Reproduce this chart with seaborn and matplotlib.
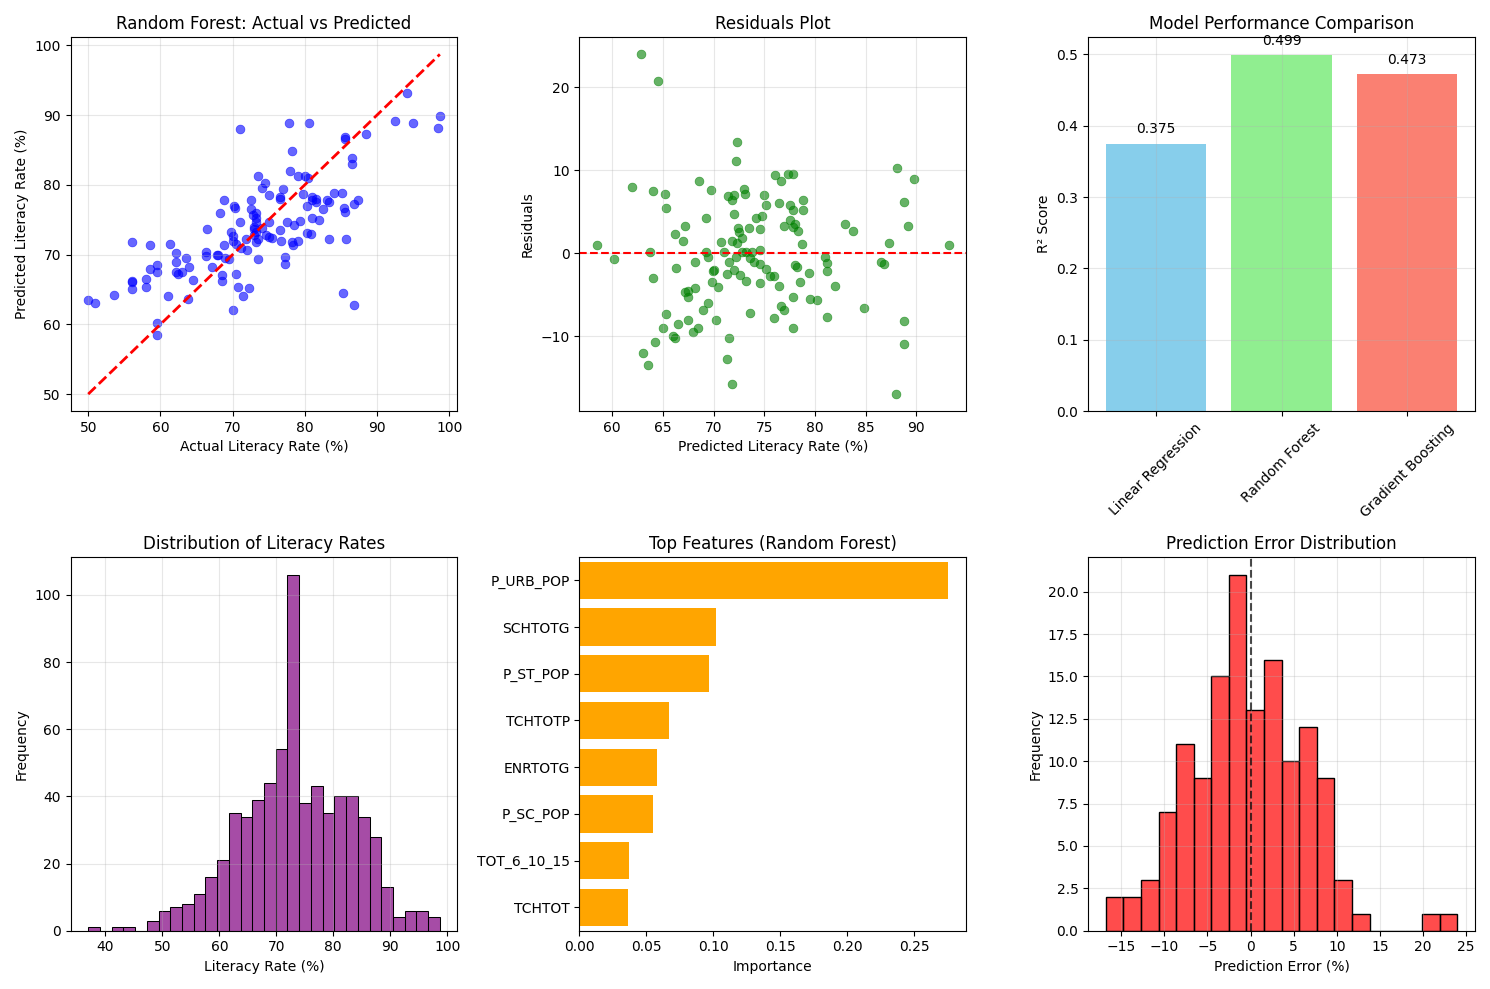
import numpy as np
import pandas as pd
import seaborn as sns
import matplotlib
matplotlib.use("Agg")
import matplotlib.pyplot as plt

# actual vs predicted (test set)
actual = [50, 51, 53.5, 56, 56, 56, 56, 58, 58, 58.5, 58.5, 59.5, 59.5, 59.5, 59.5, 61, 61.3, 62.2, 62.2, 62.2,
          62.5, 63, 63.5, 63.8, 64, 64.5, 66.3, 66.3, 66.4, 67.2, 67.8, 68, 68.2, 68.5, 68.8, 68.8, 68.5, 69, 69.5, 69.8,
          70, 70, 70, 70.2, 70.3, 70.5, 70.5, 70.8, 71, 71, 71.2, 71.5, 71.8, 72, 72.3, 72.5, 72.5, 72.8, 73, 73,
          73, 73.2, 73.3, 73.3, 73.3, 73.3, 73.5, 73.5, 73.5, 74, 74, 74.5, 74.6, 75, 75, 75, 75.5, 76.5, 76.5, 76.7,
          76.6, 77, 77.3, 77.3, 77.5, 77.8, 78, 78.2, 78.2, 78.3, 78.5, 79, 79, 79.3, 79.8, 80, 80.5, 80.3, 80.3, 80.6,
          80.8, 81, 81, 81, 81.5, 81.5, 82, 82.5, 83, 83.3, 83.3, 84, 85.2, 85.4, 85.5, 85.5, 85.5, 85.3, 85.7, 86.5,
          86.5, 86.8, 86.8, 87.3, 88.5, 92.5, 94.2, 95, 98.4, 98.7]
predicted = [63.5, 63, 64.2, 66, 66.2, 65, 71.8, 66.5, 65.3, 68, 71.3, 67.5, 68.5, 60.2, 58.5, 64, 71.5, 67.5, 69, 70.2,
             67.2, 67.5, 69.5, 63.7, 68.2, 66.3, 70.4, 69.8, 73.6, 68.2, 69.9, 70, 76, 67, 71.3, 77.8, 66.2, 69.5, 69.3, 73.2,
             62, 72, 72.6, 77, 76.7, 67.2, 71.5, 65.3, 88, 74.6, 71, 64, 72.2, 70.7, 65.2, 76.5, 77.8, 75.6, 73.6, 74,
             72.8, 76, 73.2, 74.6, 75.2, 71.8, 81.2, 69.3, 72.3, 79.5, 73.8, 80.2, 72.8, 78.5, 74.6, 72.5, 72.4, 78.2, 73.5, 72,
             78, 79.4, 69.7, 68.6, 74.6, 88.8, 82, 84.8, 71.8, 71.4, 74.2, 72, 81.2, 74.8, 78.7, 81.2, 81, 77, 73.1, 88.8,
             73, 78.3, 77.8, 75.2, 78, 77.5, 75, 76.5, 77.8, 77.5, 72.2, 78.8, 78.8, 76.7, 76.1, 86.8, 86.5, 64.5, 72.3, 83.8,
             83, 62.8, 77.3, 77.8, 87.3, 89.2, 93.2, 88.8, 88.1, 89.8]

models = ["Linear Regression", "Random Forest", "Gradient Boosting"]
r2_scores = [0.375, 0.499, 0.473]

# literacy rate histogram (30 bins)
lit_counts = [1, 0, 1, 1, 0, 3, 6, 7, 8, 11, 16, 21, 35, 34, 39, 44, 54, 106, 38, 43,
              35, 40, 40, 34, 28, 13, 4, 6, 6, 4]
lit_min, lit_max = 37.0, 98.7

features = ["P_URB_POP", "SCHTOTG", "P_ST_POP", "TCHTOTP", "ENRTOTG", "P_SC_POP", "TOT_6_10_15", "TCHTOT"]
importance = [0.275, 0.102, 0.097, 0.067, 0.058, 0.055, 0.037, 0.036]

# prediction error histogram (20 bins)
err_counts = [2, 2, 3, 7, 11, 9, 15, 21, 13, 16, 10, 12, 9, 3, 1, 0, 0, 0, 1, 1]
err_min, err_max = -16.8, 24.0

actual = np.array(actual)
predicted = np.array(predicted)
residuals = actual - predicted


def binned(counts, lo, hi):
    edges = np.linspace(lo, hi, len(counts) + 1)
    centers = (edges[:-1] + edges[1:]) / 2
    return pd.DataFrame({"x": centers, "w": np.array(counts, dtype=float)})


fig, axes = plt.subplots(2, 3, figsize=(14.9, 9.89), dpi=100)

# 1. actual vs predicted
ax = axes[0, 0]
sns.scatterplot(x=actual, y=predicted, ax=ax, color="blue", alpha=0.6, s=40, edgecolor=None)
lo, hi = actual.min(), actual.max()
ax.plot([lo, hi], [lo, hi], "r--", lw=2)
ax.set_xlabel("Actual Literacy Rate (%)")
ax.set_ylabel("Predicted Literacy Rate (%)")
ax.set_title("Random Forest: Actual vs Predicted")
ax.grid(True, alpha=0.3)

# 2. residuals
ax = axes[0, 1]
sns.scatterplot(x=predicted, y=residuals, ax=ax, color="green", alpha=0.6, s=40, edgecolor=None)
ax.axhline(0, color="red", ls="--")
ax.set_xlabel("Predicted Literacy Rate (%)")
ax.set_ylabel("Residuals")
ax.set_title("Residuals Plot")
ax.grid(True, alpha=0.3)

# 3. model comparison
ax = axes[0, 2]
bars = ax.bar(models, r2_scores, color=["skyblue", "lightgreen", "salmon"])
for b, v in zip(bars, r2_scores):
    ax.text(b.get_x() + b.get_width() / 2, v + 0.01, f"{v:.3f}", ha="center", va="bottom")
ax.set_ylabel("R² Score")
ax.set_title("Model Performance Comparison")
ax.tick_params(axis="x", rotation=45)
ax.grid(True, alpha=0.3)

# 4. literacy distribution
ax = axes[1, 0]
sns.histplot(data=binned(lit_counts, lit_min, lit_max), x="x", weights="w",
             bins=len(lit_counts), binrange=(lit_min, lit_max), ax=ax,
             color="purple", alpha=0.7, edgecolor="black")
ax.set_xlabel("Literacy Rate (%)")
ax.set_ylabel("Frequency")
ax.set_title("Distribution of Literacy Rates")
ax.grid(True, alpha=0.3)

# 5. feature importance
ax = axes[1, 1]
fi = pd.DataFrame({"feature": features, "importance": importance})
sns.barplot(data=fi, x="importance", y="feature", ax=ax, color="orange", saturation=1, width=0.8)
ax.set_xlabel("Importance")
ax.set_ylabel("")
ax.set_title("Top Features (Random Forest)")

# 6. error distribution
ax = axes[1, 2]
sns.histplot(data=binned(err_counts, err_min, err_max), x="x", weights="w",
             bins=len(err_counts), binrange=(err_min, err_max), ax=ax,
             color="red", alpha=0.7, edgecolor="black")
ax.axvline(0, color="black", ls="--", alpha=0.7)
ax.set_xlabel("Prediction Error (%)")
ax.set_ylabel("Frequency")
ax.set_title("Prediction Error Distribution")
ax.grid(True, alpha=0.3)

plt.tight_layout()
plt.savefig("out.png")
